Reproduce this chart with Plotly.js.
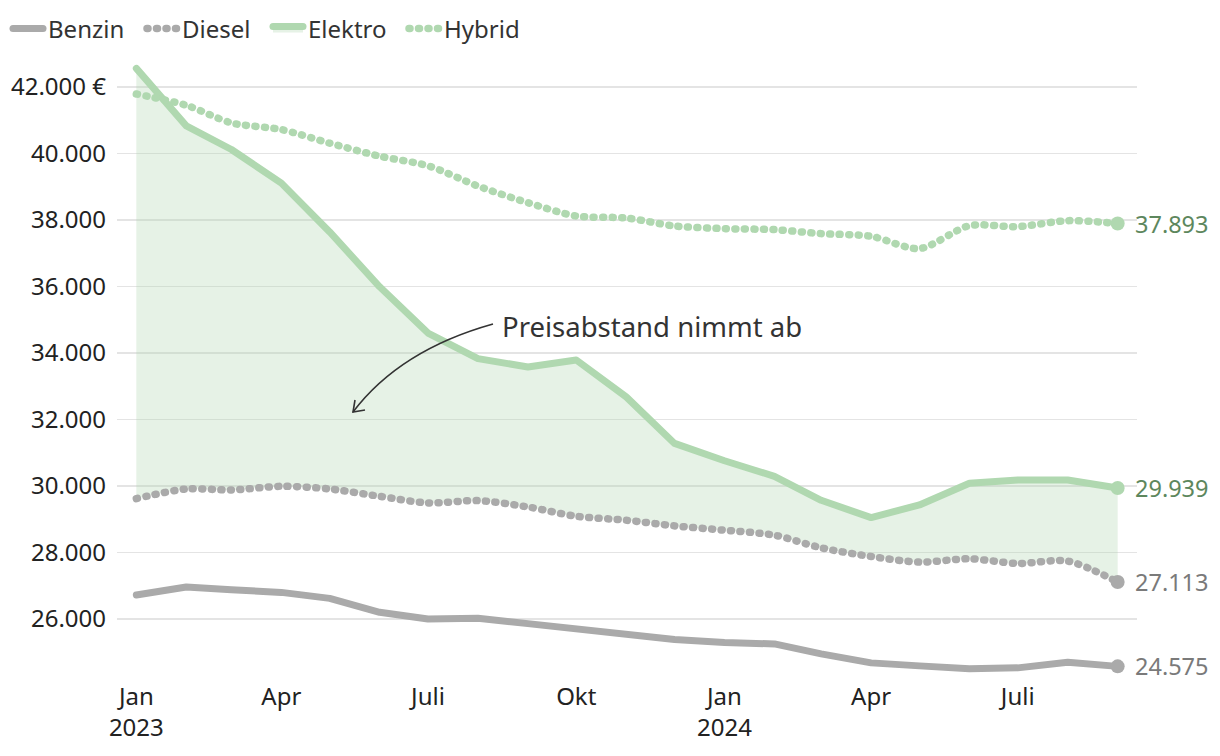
<!DOCTYPE html>
<html>
<head>
<meta charset="utf-8">
<script src="https://cdn.plot.ly/plotly-3.0.1.min.js"></script>
<style>
  html, body { margin: 0; padding: 0; background: #fff; }
  #chart { width: 1220px; height: 756px; }
  path.js-line { stroke-linecap: round; stroke-linejoin: round; }
</style>
</head>
<body>
<div id="chart"></div>
<script>
// ---- Data ----
const months = ["2023-01-01","2023-02-01","2023-03-01","2023-04-01","2023-05-01","2023-06-01","2023-07-01",
  "2023-08-01","2023-09-01","2023-10-01","2023-11-01","2023-12-01","2024-01-01","2024-02-01",
  "2024-03-01","2024-04-01","2024-05-01","2024-06-01","2024-07-01","2024-08-01","2024-09-01"];
const benzin = [26720,26960,26880,26800,26620,26200,26000,26020,25860,25700,25570,25380,25290,25250,
  24950,24680,24590,24500,24530,24700,24575];
const diesel = [29620,29910,29880,29990,29910,29690,29490,29560,29370,29090,28970,28800,28670,28520,
  28140,27880,27710,27810,27670,27740,27113];
const elektro = [42560,40830,40120,39110,37640,35990,34600,33830,33580,33790,32680,31280,30760,30290,
  29570,29050,29430,30080,30180,30180,29939];
const hybrid = [41790,41450,40920,40720,40310,39920,39630,39020,38520,38120,38060,37820,37740,37710,
  37590,37510,37140,37830,37800,37980,37893];
const seriesNames = ["Benzin","Diesel","Elektro","Hybrid"];
const endLabels = ["24.575","27.113","29.939","37.893"];
const yTickVals = [26000,28000,30000,32000,34000,36000,38000,40000,42000];
const yTickText = ["26.000","28.000","30.000","32.000","34.000","36.000","38.000","40.000","42.000 €"];
const xTickVals = ["2023-01-01","2023-04-01","2023-07-01","2023-10-01","2024-01-01","2024-04-01","2024-07-01"];
const xTickText = ["Jan<br>2023","Apr","Juli","Okt","Jan<br>2024","Apr","Juli"];
const annotationText = "Preisabstand nimmt ab";

// ---- Styles ----
const GRAY = "#aaaaaa", GREEN = "#b0d8b0";
const GRAY_TXT = "#7a7a7a", GREEN_TXT = "#5d875d";
const FONT = "Noto Sans, Open Sans, sans-serif";
const last = months.length - 1;
const DOT = "1px,8.5px";

const traces = [
  {x: months, y: benzin, name: seriesNames[0], legend: "legend", mode: "lines", line: {color: GRAY, width: 7}, hoverinfo: "skip"},
  {x: months, y: diesel, name: seriesNames[1], legend: "legend2", mode: "lines", line: {color: GRAY, width: 7.5, dash: DOT, shape: "spline", smoothing: 0.8}, hoverinfo: "skip"},
  {x: months, y: elektro, name: seriesNames[2], legend: "legend3", mode: "lines", fill: "tonexty", fillcolor: "rgba(176,216,176,0.32)", line: {color: GREEN, width: 7}, hoverinfo: "skip"},
  {x: months, y: hybrid, name: seriesNames[3], legend: "legend4", mode: "lines", line: {color: GREEN, width: 7.5, dash: DOT, shape: "spline", smoothing: 0.8}, hoverinfo: "skip"},
  {x: [months[last], months[last], months[last], months[last]], y: [benzin[last], diesel[last], elektro[last], hybrid[last]],
   mode: "markers", marker: {size: 14, color: [GRAY, GRAY, GREEN, GREEN]}, showlegend: false, hoverinfo: "skip"}
];

const endVals = [benzin[last], diesel[last], elektro[last], hybrid[last]];
const endColors = [GRAY_TXT, GRAY_TXT, GREEN_TXT, GREEN_TXT];
const annotations = endVals.map((v, i) => ({
  x: months[last], y: v, xref: "x", yref: "y", text: endLabels[i], showarrow: false,
  xanchor: "left", yanchor: "middle", xshift: 15, font: {size: 23.5, color: endColors[i], family: FONT}
}));

// plot area pixel box (for the annotation arrow in paper coords)
const L = 117, R = 1137, T = 60, B = 680;
const px = (x) => (x - L) / (R - L);
const py = (y) => (B - y) / (B - T);
annotations.push({xref: "paper", yref: "paper", x: px(500), y: py(326), text: annotationText, showarrow: false,
  xanchor: "left", yanchor: "middle", font: {size: 27.5, color: "#333", family: FONT}});

const shapes = [
  {type: "path", xref: "paper", yref: "paper",
   path: `M ${px(493)} ${py(324)} Q ${px(400)} ${py(350)} ${px(353)} ${py(412)}`,
   line: {color: "#333", width: 1.6}},
  {type: "path", xref: "paper", yref: "paper",
   path: `M ${px(355)} ${py(400)} L ${px(353)} ${py(412)} L ${px(365)} ${py(410)}`,
   line: {color: "#333", width: 1.6}}
];

const legendBase = (xpx) => ({orientation: "h", xref: "container", yref: "container",
  x: xpx / 1220, xanchor: "left", y: 1 - 29 / 756, yanchor: "middle",
  font: {size: 24, color: "#333"}, itemwidth: 30, bgcolor: "rgba(0,0,0,0)"});

const layout = {
  width: 1220, height: 756,
  margin: {l: L, r: 1220 - R, t: T, b: 756 - B, autoexpand: false},
  paper_bgcolor: "#fff", plot_bgcolor: "#fff",
  font: {family: FONT, size: 24, color: "#222"},
  showlegend: true,
  legend: legendBase(8),
  legend2: legendBase(142),
  legend3: legendBase(268),
  legend4: legendBase(404),
  xaxis: {type: "date", range: ["2022-12-20", "2024-09-13"], tickvals: xTickVals, ticktext: xTickText,
          showgrid: false, zeroline: false, showline: false, ticks: "", tickfont: {size: 24, color: "#222"}},
  yaxis: {range: [24165, 42812], tickvals: yTickVals, ticktext: yTickText, showgrid: true,
          gridcolor: "#e4e4e4", gridwidth: 1.5, zeroline: false, showline: false, ticks: "",
          ticklabelstandoff: 10, tickfont: {size: 24, color: "#222"}},
  annotations: annotations,
  shapes: shapes
};

Plotly.newPlot("chart", traces, layout, {displayModeBar: false, staticPlot: true});
</script>
</body>
</html>
